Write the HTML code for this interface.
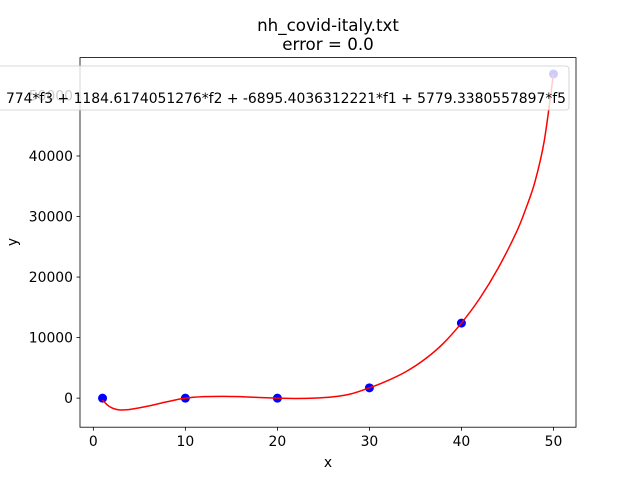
<!DOCTYPE html>
<html><head><meta charset="utf-8"><style>
body{margin:0;background:#fff;}
svg text{font-family:"DejaVu Sans","Liberation Sans",sans-serif;}
</style></head><body>
<svg id="chart" width="640" height="480" xmlns="http://www.w3.org/2000/svg">
<rect width="640" height="480" fill="#fff"/>
<text x="328" y="31" font-size="16.7" text-anchor="middle">nh_covid-italy.txt</text>
<text x="328" y="50" font-size="16.7" text-anchor="middle">error  = 0.0</text>
<g id="plot"></g>
<text x="328" y="467" font-size="13.9" text-anchor="middle">x</text>
<text x="17" y="242" font-size="13.9" text-anchor="middle" transform="rotate(-90 17 242)">y</text>
</svg>
<script>
const pointX=[1,10,20,30,40,50];
const pointY=[0,0,0,1700,12400,53550];
const curveX=[1,1.5,2,2.5,3,4,6,8,10,12,14,16,18,20,22,24,26,28,30,32,34,36,38,40,42,44,46,47,48,49,50];
const curveY=[-300,-1100,-1600,-1850,-1950,-1850,-1300,-600,0,250,300,250,100,0,-50,0,200,700,1700,2900,4400,6400,9000,12400,16500,21500,27500,31300,35800,42500,53550];
const xTicks=[0,10,20,30,40,50];
const yTicks=[0,10000,20000,30000,40000,50000];
const legendText="774*f3 + 1184.6174051276*f2 + -6895.4036312221*f1 + 5779.3380557897*f5";
const L=80,R=576,T=57.6,B=427.2;
const x0=-1.45,x1=52.45,y0=-4800,y1=56250;
const sx=v=>L+(v-x0)/(x1-x0)*(R-L);
const sy=v=>B-(v-y0)/(y1-y0)*(B-T);
const NS="http://www.w3.org/2000/svg";
const g=document.getElementById('plot');
function mk(t,a){const e=document.createElementNS(NS,t);for(const k in a)e.setAttribute(k,a[k]);g.appendChild(e);return e;}
xTicks.forEach(v=>{
 const l=mk('line',{x1:sx(v),x2:sx(v),y1:B,y2:B+3.5,stroke:'#000','stroke-width':0.8});
 
 
 const t=mk('text',{x:sx(v),y:B+19,'font-size':13.9,'text-anchor':'middle'});t.textContent=v;
 
 
});
yTicks.forEach(v=>{
 const l=mk('line',{x1:L-3.5,x2:L,y1:sy(v),y2:sy(v),stroke:'#000','stroke-width':0.8});
 
 
 const t=mk('text',{x:L-7,y:sy(v)+5,'font-size':13.9,'text-anchor':'end'});t.textContent=v;
 
 
});
pointX.forEach((v,i)=>{
 const c=mk('circle',{cx:sx(v),cy:sy(pointY[i]),r:4.5,fill:'#0000ff'});
 
 
});
const P=curveX.map((v,i)=>[sx(v),sy(curveY[i])]);
let d='M'+P[0][0]+','+P[0][1];
for(let i=0;i<P.length-1;i++){
 const p0=P[Math.max(i-1,0)],p1=P[i],p2=P[i+1],p3=P[Math.min(i+2,P.length-1)];
 d+=` C${p1[0]+(p2[0]-p0[0])/6},${p1[1]+(p2[1]-p0[1])/6} ${p2[0]-(p3[0]-p1[0])/6},${p2[1]-(p3[1]-p1[1])/6} ${p2[0]},${p2[1]}`;
}
const cp=mk('path',{d:d,fill:'none',stroke:'#ff0000','stroke-width':1.5});


const fr=mk('rect',{x:L,y:T,width:R-L,height:B-T,fill:'none',stroke:'#000','stroke-width':0.8});


const lb=mk('rect',{x:-10,y:66,width:579,height:44,rx:3,fill:'#fff','fill-opacity':0.8,stroke:'#ccc','stroke-width':0.8});


const lt=mk('text',{x:566,y:103,'font-size':13.9,'text-anchor':'end'});lt.textContent=legendText;


</script>
</body></html>
